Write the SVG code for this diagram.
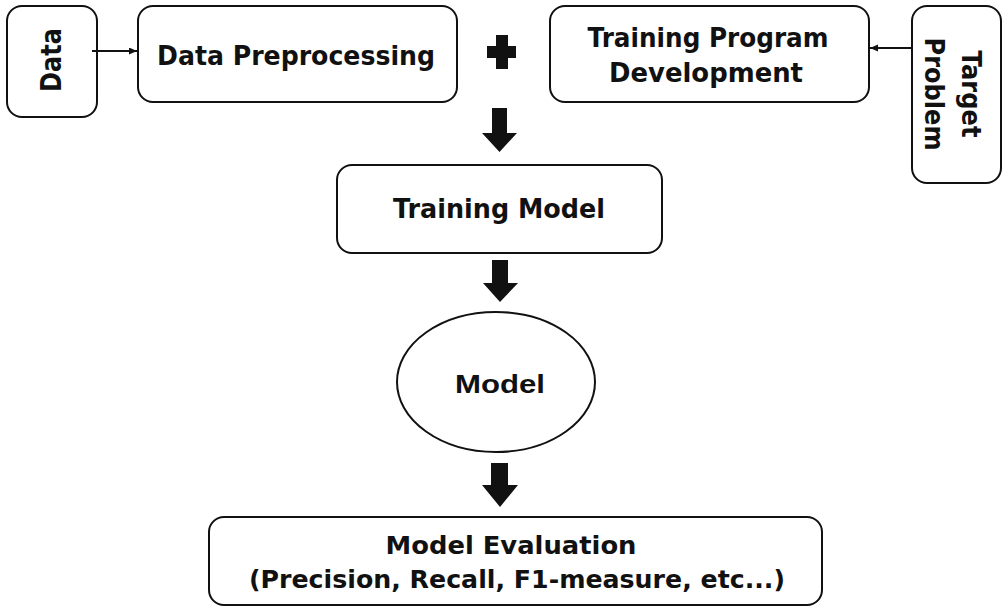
<svg xmlns="http://www.w3.org/2000/svg" width="1007" height="612" viewBox="0 0 1007 612">
<style>
.box{fill:#fff;stroke:#111;stroke-width:2}
.t{font-family:"DejaVu Sans","Liberation Sans",sans-serif;font-weight:bold;fill:#111;text-anchor:middle}
.m{font-family:"Liberation Sans","DejaVu Sans",sans-serif;font-weight:bold;fill:#111;text-anchor:middle}
.ln{stroke:#111;stroke-width:2;fill:none}
.blk{fill:#111}
</style>
<defs>
<marker id="ah" markerUnits="userSpaceOnUse" markerWidth="9" markerHeight="8" refX="8" refY="3.5" orient="auto">
<path d="M0,0 L8,3.5 L0,7 z" fill="#111"/>
</marker>
</defs>
<rect width="1007" height="612" fill="#fff"/>
<g id="data">
<rect class="box" x="7" y="6" width="90" height="111" rx="15"/>
<text class="t" font-size="29" transform="translate(61,60) rotate(-90)" textLength="64" lengthAdjust="spacingAndGlyphs">Data</text>
</g>
<g id="preprocessing">
<rect class="box" x="138" y="6" width="319" height="96" rx="15"/>
<text class="t" font-size="26" x="296" y="65" textLength="278" lengthAdjust="spacingAndGlyphs">Data Preprocessing</text>
</g>
<g id="plus">
<rect class="blk" x="487" y="46" width="29" height="12"/>
<rect class="blk" x="496" y="35" width="12" height="34"/>
</g>
<g id="program">
<rect class="box" x="550" y="6" width="319" height="96" rx="15"/>
<text class="t" font-size="27" x="708" y="47" textLength="241" lengthAdjust="spacingAndGlyphs">Training Program</text>
<text class="t" font-size="27" x="706" y="82" textLength="194" lengthAdjust="spacingAndGlyphs">Development</text>
</g>
<g id="target">
<rect class="box" x="912" y="6" width="89" height="177" rx="15"/>
<text class="t" font-size="26" transform="translate(962,94) rotate(90)" textLength="87" lengthAdjust="spacingAndGlyphs">Target</text>
<text class="t" font-size="26" transform="translate(925,94) rotate(90)" textLength="113" lengthAdjust="spacingAndGlyphs">Problem</text>
</g>
<g id="training-model">
<rect class="box" x="337" y="165" width="325" height="88" rx="15"/>
<text class="t" font-size="27" x="499" y="218" textLength="212" lengthAdjust="spacingAndGlyphs">Training Model</text>
</g>
<g id="model">
<ellipse class="box" cx="496" cy="382" rx="99" ry="70"/>
<text class="m" font-size="26" x="500" y="393" textLength="90" lengthAdjust="spacingAndGlyphs">Model</text>
</g>
<g id="evaluation">
<rect class="box" x="209" y="517" width="613" height="88" rx="15"/>
<text class="t" font-size="25" x="511" y="554" textLength="251" lengthAdjust="spacingAndGlyphs">Model Evaluation</text>
<text class="t" font-size="25" x="517" y="588" textLength="536" lengthAdjust="spacingAndGlyphs">(Precision, Recall, F1-measure, etc...)</text>
</g>
<g id="connectors">
<line class="ln" x1="92" y1="51" x2="137" y2="51" marker-end="url(#ah)"/>
<line class="ln" x1="912" y1="48" x2="870" y2="48" marker-end="url(#ah)"/>
<path class="blk" d="M492,108 H507 V133 H517 L499.5,152 L482,133 H492 Z"/>
<path class="blk" d="M492,260 H508 V283 H518 L500,302 L483,283 H492 Z"/>
<path class="blk" d="M491,463 H508 V485 H518 L500,507 L482,485 H491 Z"/>
</g>
</svg>
